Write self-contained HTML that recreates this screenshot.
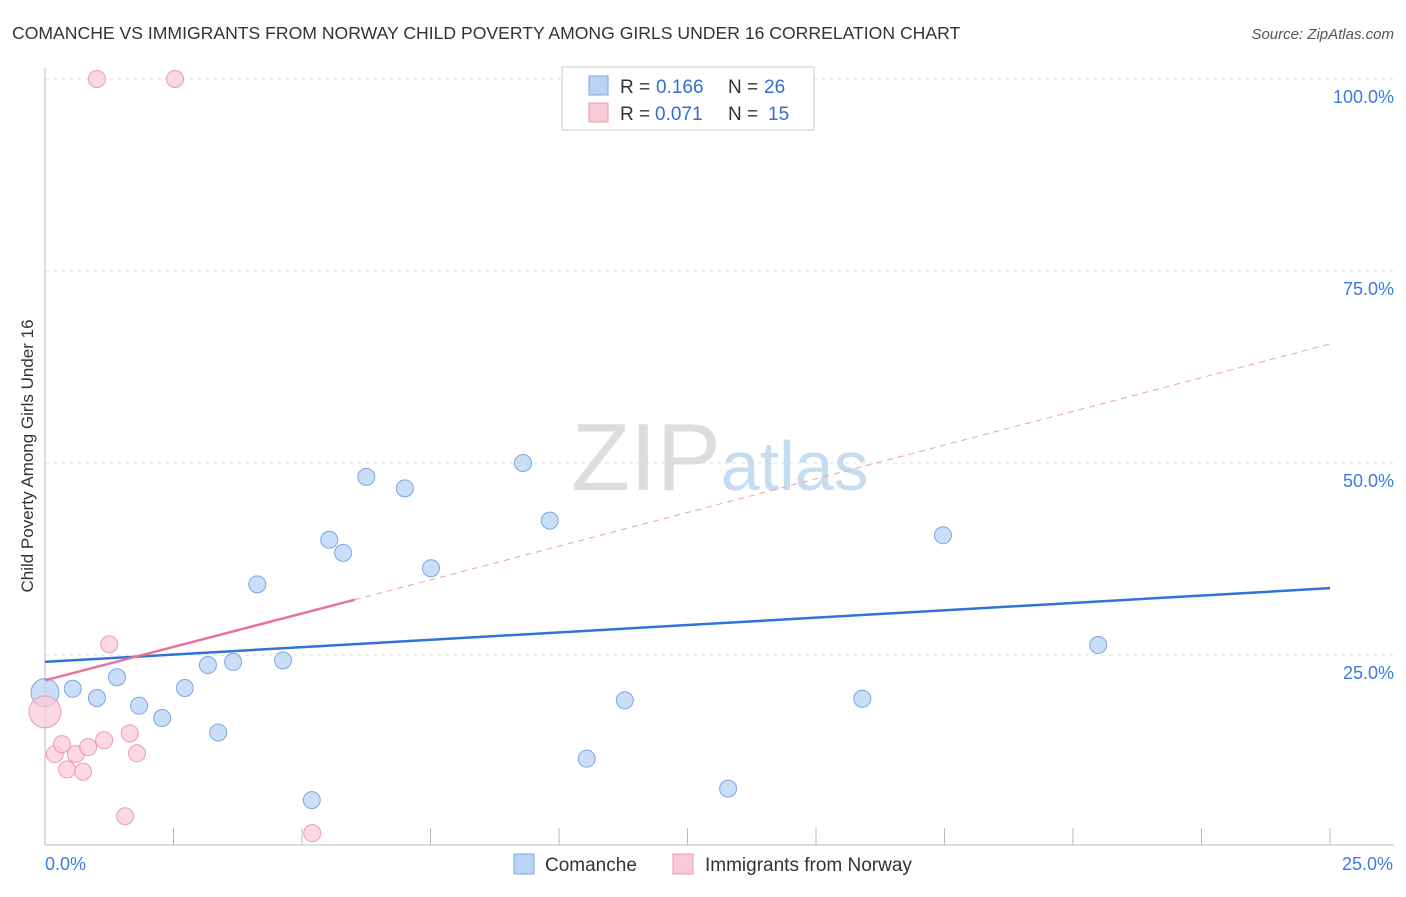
<!DOCTYPE html>
<html><head><meta charset="utf-8"><style>
body{margin:0;background:#fff;font-family:"Liberation Sans",sans-serif;}
svg text{font-family:"Liberation Sans",sans-serif;}
</style></head><body>
<svg id="chart" width="1406" height="892">
<text x="12" y="39" font-size="17.6" fill="#333">COMANCHE VS IMMIGRANTS FROM NORWAY CHILD POVERTY AMONG GIRLS UNDER 16 CORRELATION CHART</text>
<text x="1394" y="39" font-size="15" fill="#555" text-anchor="end" font-style="italic">Source: ZipAtlas.com</text>
<text x="33" y="456" font-size="17" fill="#333" text-anchor="middle" transform="rotate(-90 33 456)">Child Poverty Among Girls Under 16</text>
<g id="grid"></g>
<text x="720" y="490" font-size="96" fill="#ddd" text-anchor="middle" font-family="Liberation Serif">ZIP<tspan fill="#c8dcf0" font-family="Liberation Sans" font-size="70">atlas</tspan></text>
<g id="marks"></g>
<g>
<rect x="562" y="67" width="252" height="63" fill="#fff" stroke="#ccc"/>
<rect x="589" y="76" width="19" height="19" fill="#b9d3f5" stroke="#7aa7e0"/>
<text x="620" y="93" font-size="19" fill="#333">R =</text>
<text x="656" y="93" font-size="19" fill="#2f6fd1">0.166</text>
<text x="728" y="93" font-size="19" fill="#333">N =</text>
<text x="764" y="93" font-size="19" fill="#2f6fd1">26</text>
<rect x="589" y="103" width="19" height="19" fill="#f9c9d6" stroke="#ec9ab2"/>
<text x="620" y="120" font-size="19" fill="#333">R =</text>
<text x="655" y="120" font-size="19" fill="#2f6fd1">0.071</text>
<text x="728" y="120" font-size="19" fill="#333">N =</text>
<text x="768" y="120" font-size="19" fill="#2f6fd1">15</text>
</g>
<g>
<rect x="514" y="854" width="20" height="20" fill="#b9d3f5" stroke="#7aa7e0"/>
<text x="545" y="871" font-size="19" fill="#333">Comanche</text>
<rect x="673" y="854" width="20" height="20" fill="#f9c9d6" stroke="#ec9ab2"/>
<text x="705" y="871" font-size="19" fill="#333">Immigrants from Norway</text>
</g>
</svg>
<script>
const yTicks=[25,50,75,100];
const yTickLabels=["25.0%","50.0%","75.0%","100.0%"];
const xTicks=[0,2.5,5,7.5,10,12.5,15,17.5,20,22.5,25];
const blueX=[0,0.54,1.01,1.40,1.83,2.28,2.72,3.17,3.37,3.66,4.13,4.63,5.19,5.53,5.80,6.25,7.00,7.51,9.30,9.82,10.54,11.28,13.29,15.90,17.47,20.49];
const blueY=[20.1,20.6,19.4,22.1,18.4,16.8,20.7,23.7,14.9,24.1,34.2,24.3,6.1,40.0,38.3,48.2,46.7,36.3,50.0,42.5,11.5,19.1,7.6,19.3,40.6,26.3];
const pinkX=[1.01,2.53,1.25,0.19,0.33,0.43,0.6,0.74,0.84,1.15,1.65,1.79,1.56,5.2,0];
const pinkY=[100,100,26.4,12.1,13.4,10.1,12.1,9.8,13.0,13.9,14.8,12.2,4.0,1.8,17.6];
const blueTrend=[24.1,33.7];
const pinkTrend=[21.7,32.2,65.5];
const X=v=>45+v/25*1285, Y=v=>847-v/100*768;
const NS="http://www.w3.org/2000/svg";
function mk(t,a,p){const e=document.createElementNS(NS,t);for(const k in a)e.setAttribute(k,a[k]);p.appendChild(e);return e;}
const g=document.getElementById('grid'), m=document.getElementById('marks');
yTicks.forEach((t,i)=>{
 const l=mk('line',{x1:45,x2:1394,y1:Y(t),y2:Y(t),stroke:'#ddd','stroke-dasharray':'4 4'},g);
 
 
 const tx=mk('text',{x:1394,y:Y(t)+24,'font-size':18,fill:'#3b7be0','text-anchor':'end'},g);
 tx.textContent=yTickLabels[i];
 
 
});
const ax=mk('line',{x1:45,x2:1394,y1:845,y2:845,stroke:'#bbb'},g);


const ay=mk('line',{x1:45,x2:45,y1:68,y2:845,stroke:'#bbb'},g);


xTicks.forEach(t=>{
 const l=mk('line',{x1:X(t),x2:X(t),y1:828,y2:845,stroke:'#bbb'},g);
 
 
});
[[45,'start','0.0%'],[1393,'end','25.0%']].forEach(d=>{
 const tx=mk('text',{x:d[0],y:870,'font-size':18,fill:'#3b7be0','text-anchor':d[1]},g);
 tx.textContent=d[2];
 
 
});
blueX.forEach((x,i)=>{
 const c=mk('circle',{cx:X(x),cy:Y(blueY[i]),r:i==0?14:8.5,fill:'#b9d3f5','fill-opacity':0.75,stroke:'#7aa7e0'},m);
 
 
});
pinkX.forEach((x,i)=>{
 const c=mk('circle',{cx:X(x),cy:Y(pinkY[i]),r:i==14?16:8.5,fill:'#f9c9d6','fill-opacity':0.7,stroke:'#ec9ab2'},m);
 
 
});
const bl=mk('line',{x1:X(0),y1:Y(blueTrend[0]),x2:X(25),y2:Y(blueTrend[1]),stroke:'#2f74d6','stroke-width':2.5},m);


const pl=mk('line',{x1:X(0),y1:Y(pinkTrend[0]),x2:X(6.03),y2:Y(pinkTrend[1]),stroke:'#e8719a','stroke-width':2.5},m);


const pd=mk('line',{x1:X(6.03),y1:Y(pinkTrend[1]),x2:X(25),y2:Y(pinkTrend[2]),stroke:'#e8a0b8','stroke-width':1,'stroke-dasharray':'6 5'},m);


</script>
</body></html>
